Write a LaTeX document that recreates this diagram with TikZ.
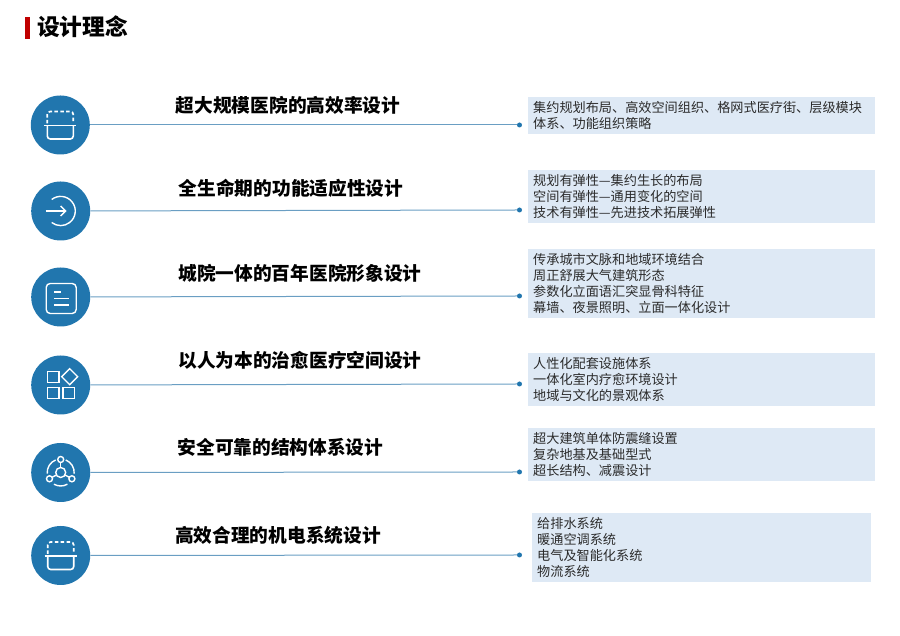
\documentclass[tikz,border=0pt]{standalone}
\usepackage{fontspec}
\setmainfont{Noto Sans CJK SC}
\usetikzlibrary{positioning,calc}
\definecolor{iconblue}{HTML}{2176AE}
\definecolor{linkblue}{HTML}{6A9EC3}
\definecolor{boxblue}{HTML}{DEE9F5}
\definecolor{barred}{HTML}{C00000}
\definecolor{detailgray}{HTML}{2B2B2B}

\tikzset{
    iconline/.style={draw=white, line width=1.4pt, fill=none},
    pics/basket/.style={code={
        \draw[iconline, line width=1.7pt, dash pattern=on 3.5pt off 2.4pt, rounded corners=3pt] (-13,1.5) -- (-13,13.5) -- (13,13.5) -- (13,1.5);
        \draw[iconline, line width=1.6pt] (-16,-0.5) -- (16,-0.5);
        \draw[iconline, line width=1.6pt, rounded corners=3pt] (-13,-0.5) -- (-13,-14) -- (13,-14) -- (13,-0.5);
    }},
    pics/enter/.style={code={
        \draw[iconline] (-15,0) -- (4.5,0);
        \draw[iconline] (0,5) -- (5,0) -- (0,-5);
        \draw[iconline] (-9,11.5) arc[start angle=128, end angle=-128, radius=14.6];
    }},
    pics/note/.style={code={
        \draw[iconline, rounded corners=4pt] (-14.5,-16.5) rectangle (15.5,13.5);
        \draw[iconline] (-6.7,5) -- (0.7,5);
        \draw[iconline] (-6.7,-1.5) -- (8.3,-1.5);
        \draw[iconline] (-6.7,-8) -- (8.3,-8);
    }},
    pics/blocks/.style={code={
        \draw[iconline] (-13.3,2.3) rectangle (-1.7,13.3);
        \draw[iconline] (-13.3,-13.3) rectangle (-1.7,-2.3);
        \draw[iconline] (2.3,-13.3) rectangle (14,-2.3);
        \draw[iconline] (9,16.3) -- (17,8.3) -- (9,0.3) -- (1,8.3) -- cycle;
    }},
    pics/hub/.style={code={
        \draw[iconline] (0,0) circle[radius=5];
        \draw[iconline] (0,13) circle[radius=3];
        \draw[iconline] (-11.2,-6.3) circle[radius=3];
        \draw[iconline] (11.2,-6.3) circle[radius=3];
        \draw[iconline] (0,5) -- (0,10);
        \draw[iconline] (-4.3,-2.5) -- (-8.6,-4.8);
        \draw[iconline] (4.3,-2.5) -- (8.6,-4.8);
        \draw[iconline] ({13.5*cos(112)},{13.5*sin(112)}) arc[start angle=112, end angle=185, radius=13.5];
        \draw[iconline] ({13.5*cos(68)},{13.5*sin(68)}) arc[start angle=68, end angle=-5, radius=13.5];
        \draw[iconline] ({13.5*cos(240)},{13.5*sin(240)}) arc[start angle=240, end angle=300, radius=13.5];
    }},
}

\begin{document}
\begin{tikzpicture}[x=1pt, y=1pt,
    iconball/.style={circle, fill=iconblue, minimum size=59pt, inner sep=0pt},
    enddot/.style={circle, fill=iconblue, minimum size=5pt, inner sep=0pt},
    link/.style={draw=linkblue, line width=1pt},
    heading/.style={font=\fontsize{18.7}{22}\selectfont\bfseries, inner sep=0pt},
    detail/.style={anchor=west, fill=boxblue, text=detailgray, minimum width=347pt, text width=337pt,
        inner xsep=5pt, inner ysep=0pt, align=left, font=\fontsize{13.15}{16}\selectfont}]

\useasboundingbox (0,0) rectangle (900,636);

% Titel
\fill[barred] (25.3,596.7) rectangle (30,619.3);
\node[font=\fontsize{22.7}{26}\selectfont\bfseries, anchor=west, inner sep=0pt] (T) at (37,609) {设计理念};

% Kreise
\node[iconball] (C1) at (60.3,511) {};
\node[iconball] (C2) at (60.7,425) {};
\node[iconball] (C3) at (60.7,339) {};
\node[iconball] (C4) at (60.7,251) {};
\node[iconball] (C5) at (60.7,163.5) {};
\node[iconball] (C6) at (60.7,80.5) {};

\pic at (C1) {basket};
\pic at (C2) {enter};
\pic at (C3) {note};
\pic at (C4) {blocks};
\pic at (C5) {hub};
\pic at (C6) {basket};

% Endpunkte
\node[enddot] (D1) at (519.5,511) {};
\node[enddot] (D2) at (519.5,426) {};
\node[enddot] (D3) at (519.5,340) {};
\node[enddot] (D4) at (519.5,252) {};
\node[enddot] (D5) at (519.5,164) {};
\node[enddot] (D6) at (519.5,81) {};

\draw[link] (C1) -- (D1);
\draw[link] (C2) -- (D2);
\draw[link] (C3) -- (D3);
\draw[link] (C4) -- (D4);
\draw[link] (C5) -- (D5);
\draw[link] (C6) -- (D6);

% Ueberschriften
\node[heading] (H1) at (288,531) {超大规模医院的高效率设计};
\node[heading] (H2) at (291,448) {全生命期的功能适应性设计};
\node[heading] (H3) at (300,363) {城院一体的百年医院形象设计};
\node[heading] (H4) at (300,276) {以人为本的治愈医疗空间设计};
\node[heading] (H5) at (280.5,189) {安全可靠的结构体系设计};
\node[heading] (H6) at (278,101) {高效合理的机电系统设计};

% Textfelder
\node[detail, minimum height=37pt] (B1) at (528,520.5) {集约规划布局、高效空间组织、格网式医疗街、层级模块\\体系、功能组织策略};
\node[detail, minimum height=53pt] (B2) at (528,439.5) {规划有弹性—集约生长的布局\\空间有弹性—通用变化的空间\\技术有弹性—先进技术拓展弹性};
\node[detail, minimum height=69pt] (B3) at (528,352) {传承城市文脉和地域环境结合\\周正舒展大气建筑形态\\参数化立面语汇突显骨科特征\\幕墙、夜景照明、立面一体化设计};
\node[detail, minimum height=53pt] (B4) at (528,256) {人性化配套设施体系\\一体化室内疗愈环境设计\\地域与文化的景观体系};
\node[detail, minimum height=53pt] (B5) at (528,181.5) {超大建筑单体防震缝设置\\复杂地基及基础型式\\超长结构、减震设计};
\node[detail, minimum height=69pt, minimum width=339pt, text width=329pt] (B6) at (532,88.5) {给排水系统\\暖通空调系统\\电气及智能化系统\\物流系统};

\end{tikzpicture}
\end{document}
